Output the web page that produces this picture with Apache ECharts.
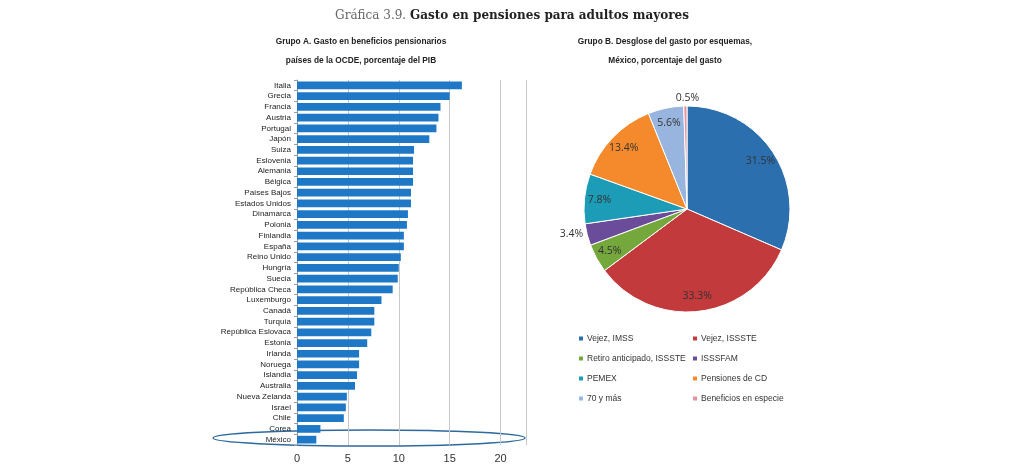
<!DOCTYPE html>
<html>
<head>
<meta charset="utf-8">
<script src="https://cdn.jsdelivr.net/npm/echarts@6/dist/echarts.min.js"></script>
<style>
  html, body { margin: 0; padding: 0; background: #fff; }
  #chart { width: 1024px; height: 467px; }
</style>
</head>
<body>
<div id="chart"></div>
<script>
// Grupo A: gasto en beneficios pensionarios, % del PIB
const countries = [
  'Italia', 'Grecia', 'Francia', 'Austria', 'Portugal', 'Japón', 'Suiza',
  'Eslovenia', 'Alemania', 'Bélgica', 'Países Bajos', 'Estados Unidos',
  'Dinamarca', 'Polonia', 'Finlandia', 'España', 'Reino Unido', 'Hungría',
  'Suecia', 'República Checa', 'Luxemburgo', 'Canadá', 'Turquía',
  'República Eslovaca', 'Estonia', 'Irlanda', 'Noruega', 'Islandia',
  'Australia', 'Nueva Zelanda', 'Israel', 'Chile', 'Corea', 'México'
];
const gdpShare = [
  16.2, 15.0, 14.1, 13.9, 13.7, 13.0, 11.5,
  11.4, 11.4, 11.4, 11.2, 11.2,
  10.9, 10.8, 10.5, 10.5, 10.2, 10.0,
  9.9, 9.4, 8.3, 7.6, 7.6,
  7.3, 6.9, 6.1, 6.1, 5.9,
  5.7, 4.9, 4.8, 4.6, 2.3, 1.9
];
const xTicks = [0, 5, 10, 15, 20];

// Grupo B: desglose del gasto por esquemas, México
const schemes = [
  'Vejez, IMSS', 'Vejez, ISSSTE', 'Retiro anticipado, ISSSTE', 'ISSSFAM',
  'PEMEX', 'Pensiones de CD', '70 y más', 'Beneficios en especie'
];
const schemeShare = [31.5, 33.3, 4.5, 3.4, 7.8, 13.4, 5.6, 0.5];
const schemeColors = ['#2b6fae', '#c23a3c', '#74a83c', '#6b4c9a', '#1c9cb6', '#f58a2c', '#97b5de', '#e8919c'];
const outsideLabels = ['ISSSFAM', 'Beneficios en especie'];

const sans = '"Liberation Sans", Arial, sans-serif';

const chart = echarts.init(document.getElementById('chart'));

const pieData = schemes.map((name, i) => ({
  name: name,
  value: schemeShare[i],
  itemStyle: { color: schemeColors[i] }
}));

const labelData = schemes.map((name, i) => {
  const outside = outsideLabels.indexOf(name) >= 0;
  return {
    name: name,
    value: schemeShare[i],
    label: { position: outside ? 'outside' : 'inside' }
  };
});

const legendText = { fontFamily: sans, fontSize: 8.5, color: '#333', padding: [0, 0, 0, -2] };

const option = {
  animation: false,
  title: [
    {
      text: '{a|Gráfica 3.9. }{b|Gasto en pensiones para adultos mayores}',
      left: 'center',
      top: 5,
      textStyle: {
        rich: {
          a: { fontFamily: '"DejaVu Serif", serif', fontSize: 12, fontWeight: 'normal', color: '#666' },
          b: { fontFamily: '"DejaVu Serif", serif', fontSize: 12, fontWeight: 'bold', color: '#222' }
        }
      }
    },
    {
      text: 'Grupo A. Gasto en beneficios pensionarios\npaíses de la OCDE, porcentaje del PIB',
      left: 356,
      top: 27,
      textAlign: 'center',
      textStyle: { fontFamily: sans, fontSize: 8.3, fontWeight: 'bold', color: '#222', lineHeight: 19 }
    },
    {
      text: 'Grupo B. Desglose del gasto por esquemas,\nMéxico, porcentaje del gasto',
      left: 660,
      top: 27,
      textAlign: 'center',
      textStyle: { fontFamily: sans, fontSize: 8.3, fontWeight: 'bold', color: '#222', lineHeight: 19 }
    }
  ],
  grid: { left: 297, right: 498, top: 80, bottom: 22, containLabel: false },
  xAxis: {
    type: 'value',
    min: 0,
    max: 22.5,
    interval: 5,
    axisLine: { show: false },
    axisTick: { show: false },
    splitLine: { lineStyle: { color: '#c8c8c8', width: 1 } },
    axisLabel: {
      fontFamily: sans,
      fontSize: 11,
      color: '#333',
      margin: 8,
      formatter: v => (xTicks.indexOf(v) >= 0 ? String(v) : '')
    }
  },
  yAxis: {
    type: 'category',
    data: countries,
    inverse: true,
    axisLine: { lineStyle: { color: '#9a9a9a' } },
    axisTick: { show: true, length: 3, lineStyle: { color: '#9a9a9a' } },
    axisLabel: { fontFamily: sans, fontSize: 8, color: '#222', margin: 6, interval: 0 }
  },
  legend: [
    {
      data: [schemes[0], schemes[2], schemes[4], schemes[6]],
      orient: 'vertical',
      left: 572,
      top: 329,
      itemWidth: 6,
      itemHeight: 6,
      itemGap: 11,
      icon: 'rect',
      textStyle: legendText
    },
    {
      data: [schemes[1], schemes[3], schemes[5], schemes[7]],
      orient: 'vertical',
      left: 686,
      top: 329,
      itemWidth: 6,
      itemHeight: 6,
      itemGap: 11,
      icon: 'rect',
      textStyle: legendText
    }
  ],
  series: [
    {
      type: 'bar',
      data: gdpShare,
      barCategoryGap: '28%',
      itemStyle: { color: '#1f78c6' },
      silent: true
    },
    {
      type: 'pie',
      center: [687, 209],
      radius: [0, 103],
      startAngle: 90,
      clockwise: true,
      data: pieData,
      label: { show: false },
      labelLine: { show: false },
      itemStyle: { borderColor: '#fff', borderWidth: 1 },
      silent: true
    },
    {
      // transparent ring carrying the percentage labels
      type: 'pie',
      center: [687, 209],
      radius: [70, 100],
      startAngle: 90,
      clockwise: true,
      data: labelData,
      legendHoverLink: false,
      itemStyle: { color: 'rgba(0,0,0,0)' },
      label: {
        show: true,
        formatter: p => p.value.toFixed(1) + '%',
        fontFamily: '"Open Sans", "Liberation Sans", sans-serif',
        fontSize: 10.5,
        color: '#333'
      },
      labelLine: { show: false, length: 2, length2: 0 },
      labelLayout: params => {
        if (params.dataIndex === 7) {
          return { align: 'center', dx: 7, dy: -9 };
        }
        return {};
      },
      silent: true
    }
  ],
  graphic: [
    {
      type: 'ellipse',
      shape: { cx: 369, cy: 438, rx: 156, ry: 8 },
      style: { fill: 'none', stroke: '#2e6a9e', lineWidth: 1.5 },
      silent: true
    }
  ]
};

chart.setOption(option);
</script>
</body>
</html>
